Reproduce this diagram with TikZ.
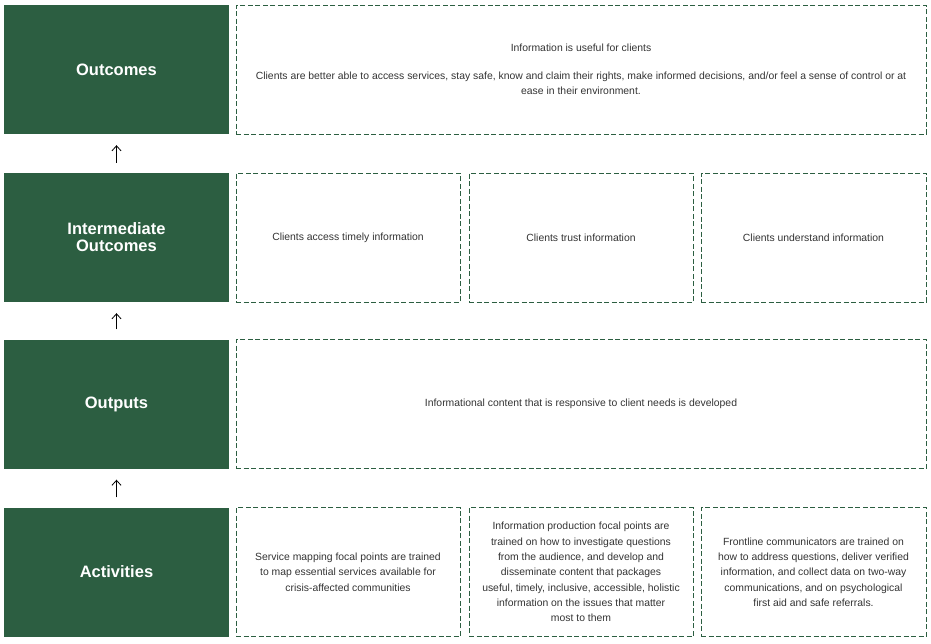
\documentclass[tikz,border=0pt]{standalone}
\usepackage{fontspec}
\setmainfont{Liberation Sans}
\usepackage{xcolor}
\usetikzlibrary{arrows.meta,positioning}
\definecolor{verde}{RGB}{44,94,65}
\tikzset{
  nivel/.style={fill=verde,text=white,font=\fontsize{16.5}{17}\selectfont\bfseries,minimum width=225pt,minimum height=129pt,align=center,inner sep=0pt},
  caja/.style={draw=verde,dash pattern=on 5pt off 2.5pt,line width=0.8pt,minimum height=129pt,align=center,text=black!80,font=\fontsize{10.4}{15.3}\selectfont,inner sep=0pt},
  flecha/.style={-{Straight Barb[length=5pt,width=9pt]},line width=0.8pt,shorten <=10pt,shorten >=11pt}
}

\begin{document}
\begin{tikzpicture}[x=1pt,y=-1pt]
\useasboundingbox (0,0) rectangle (931,643);
% columna de niveles
\node[nivel] (oc) at (116.5,69.5) {Outcomes};
\node[nivel] (im) at (116.5,237.5) {Intermediate\\Outcomes};
\node[nivel] (op) at (116.5,404) {Outputs};
\node[nivel] (ac) at (116.5,572) {Activities};
\draw[flecha] (im) -- (oc);
\draw[flecha] (op) -- (im);
\draw[flecha] (ac) -- (op);
% cajas de contenido
\node[caja,minimum width=690pt] (ocA) at (581,69.5) {Information is useful for clients\\[12pt]Clients are better able to access services, stay safe, know and claim their rights, make informed decisions, and/or feel a sense of control or at\\ease in their environment.};
\node[caja,minimum width=224pt] (imA) at (348,237.5) {Clients access timely information};
\node[caja,minimum width=224pt] (imB) at (581,237.5) {Clients trust information};
\node[caja,minimum width=225pt] (imC) at (813.5,237.5) {Clients understand information};
\node[caja,minimum width=690pt] (opA) at (581,404) {Informational content that is responsive to client needs is developed};
\node[caja,minimum width=224pt] (acA) at (348,572) {Service mapping focal points are trained\\to map essential services available for\\crisis-affected communities};
\node[caja,minimum width=224pt] (acB) at (581,572) {Information production focal points are\\trained on how to investigate questions\\from the audience, and develop and\\disseminate content that packages\\useful, timely, inclusive, accessible, holistic\\information on the issues that matter\\most to them};
\node[caja,minimum width=225pt] (acC) at (813.5,572) {Frontline communicators are trained on\\how to address questions, deliver verified\\information, and collect data on two-way\\communications, and on psychological\\first aid and safe referrals.};
\end{tikzpicture}
\end{document}
